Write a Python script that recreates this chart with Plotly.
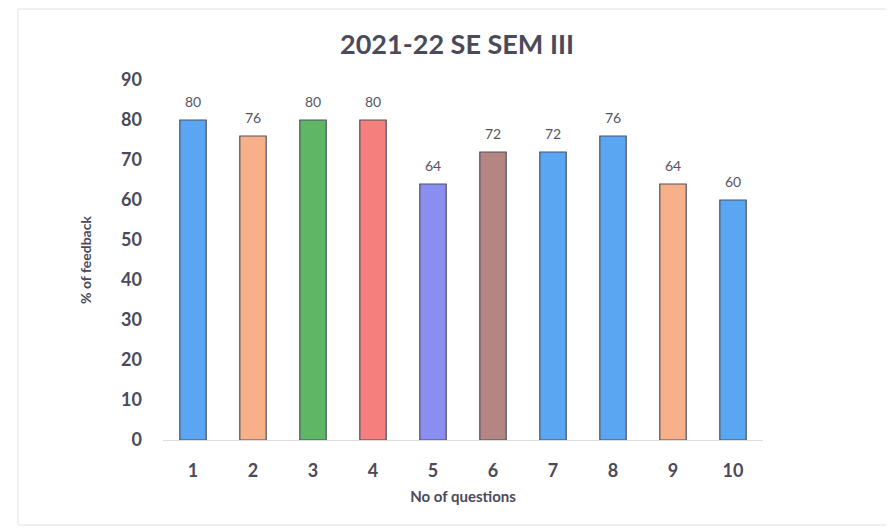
import plotly.graph_objects as go

questions = ["1", "2", "3", "4", "5", "6", "7", "8", "9", "10"]
feedback = [80, 76, 80, 80, 64, 72, 72, 76, 64, 60]
bar_colors = ["#5aa6f2", "#f8b08a", "#5fb665", "#f57f7c", "#8a8ef0",
              "#b38583", "#5aa6f2", "#5aa6f2", "#f8b08a", "#5aa6f2"]
y_ticks = [0, 10, 20, 30, 40, 50, 60, 70, 80, 90]

FONT = "Lato, Open Sans, sans-serif"
INK = "#4a4a5a"

fig = go.Figure()
fig.add_trace(go.Bar(
    x=questions, y=feedback,
    marker=dict(color=bar_colors, line=dict(color="#4a5060", width=1.2)),
    width=0.44,
    cliponaxis=False,
))

for i, v in enumerate(feedback):
    fig.add_annotation(x=i, y=v, text=str(v), showarrow=False,
                       xref="x", yref="y",
                       yanchor="bottom", yshift=8,
                       font=dict(family=FONT, size=14, color="#555560"))

L, T, PW, PH = 155, 72, 600, 360
fig.update_layout(
    width=894, height=528,
    paper_bgcolor="white", plot_bgcolor="white",
    margin=dict(l=L, r=894 - L - PW, t=T, b=528 - T - PH, autoexpand=False),
    showlegend=False,
    title=dict(text="2021-22 SE SEM III", x=(457 - 8) / 894, xanchor="center",
               y=1 - (45 - 8) / 528, yanchor="middle",
               font=dict(family=FONT, size=27, color=INK, weight="bold")),
    font=dict(family=FONT, color=INK),
)
fig.update_xaxes(
    type="category", range=[-0.5, len(questions) - 0.5],
    showgrid=False, showline=True, linecolor="#dcdcdc", linewidth=1,
    ticks="", tickfont=dict(size=18, color=INK, family=FONT, weight="bold"),
    ticklabelstandoff=14,
    title=dict(text="No of questions", font=dict(size=15, color=INK, weight="bold"), standoff=11),
)
fig.update_yaxes(
    range=[0, 90], tickvals=y_ticks, showgrid=False, zeroline=False, showline=False,
    tickfont=dict(size=18, color=INK, family=FONT, weight="bold"),
    ticklabelstandoff=20,
    title=dict(text="% of feedback", font=dict(size=14, color=INK, weight="bold"), standoff=26),
)

fig.add_shape(type="rect", xref="paper", yref="paper",
              x0=(10 - L) / PW, x1=(900 - L) / PW,
              y0=(T + PH - 517) / PH, y1=(T + PH - 1) / PH,
              line=dict(color="#e2e2e2", width=1), fillcolor="rgba(0,0,0,0)", layer="below")

fig.write_html("out.html")
